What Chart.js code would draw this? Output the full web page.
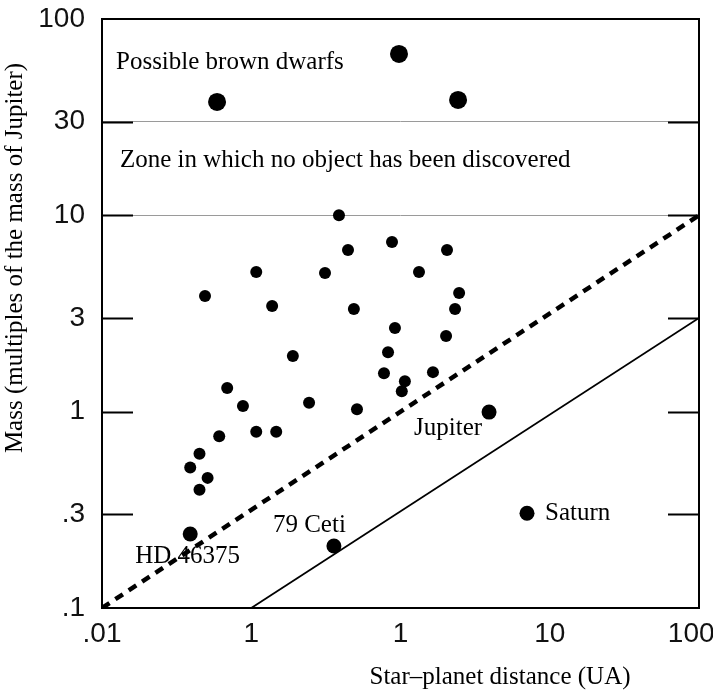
<!DOCTYPE html>
<html>
<head>
<meta charset="utf-8">
<script src="https://cdn.jsdelivr.net/npm/chart.js@4/dist/chart.umd.min.js"></script>
<style>
  body { margin: 0; background: #fff; }
  #wrap { width: 713px; height: 696px; }
</style>
</head>
<body>
<div id="wrap"><canvas id="mass-chart" width="713" height="696"></canvas></div>
<script>
// Axis ticks (labels copied as printed)
const xTickValues = [0.01, 0.1, 1, 10, 100];
const xTickLabels = ['.01', '1', '1', '10', '100\u2007'];
const yTickValues = [0.1, 0.3, 1, 3, 10, 30, 100];
const yTickLabels = ['.1', '.3', '1', '3', '10', '30', '100'];

// Extrasolar planets (distance in UA, mass in Jupiter masses)
const planetDist = [0.387, 0.445, 0.108, 0.312, 0.049, 0.138, 0.487, 0.19, 0.069, 0.088, 0.244,
                    0.511, 0.061, 0.108, 0.147, 0.045, 0.039, 0.051, 0.045, 0.775, 0.825, 0.877,
                    0.918, 1.02, 1.07, 1.33, 1.65, 2.02, 2.05, 2.32, 2.47];
const planetMass = [10.0, 6.66, 5.14, 5.08, 3.88, 3.45, 3.33, 1.92, 1.32, 1.07, 1.11,
                    1.03, 0.75, 0.79, 0.79, 0.61, 0.52, 0.46, 0.40, 1.57, 2.01, 7.31,
                    2.67, 1.27, 1.43, 5.14, 1.59, 2.43, 6.66, 3.33, 4.02];

// Possible brown dwarfs
const dwarfDist = [0.059, 0.977, 2.43];
const dwarfMass = [37.8, 66.4, 38.7];

// Named objects
const namedLabels = ['Jupiter', 'HD 46375', '79 Ceti', 'Saturn'];
const namedDist = [3.92, 0.039, 0.358, 7.04];
const namedMass = [0.995, 0.238, 0.207, 0.304];

// Limit lines
const dashedDist = [0.01, 100];
const dashedMass = [0.1, 10];
const solidDist = [0.1, 100];
const solidMass = [0.1, 3];

const toPoints = (xs, ys) => xs.map((x, i) => ({ x: x, y: ys[i] }));

const serif = '"Liberation Serif", "Times New Roman", serif';
const sans = '"Liberation Sans", Arial, sans-serif';

const framePlugin = {
  id: 'frame',
  afterDraw(chart) {
    const ctx = chart.ctx;
    const a = chart.chartArea;
    const xs = chart.scales.x;
    const ys = chart.scales.y;
    ctx.save();
    ctx.strokeStyle = '#000';
    ctx.lineWidth = 2;
    ctx.strokeRect(a.left, a.top, a.right - a.left, a.bottom - a.top);

    // inside tick marks on both sides
    [0.3, 1, 3, 10, 30].forEach(v => {
      const py = Math.round(ys.getPixelForValue(v)) + 0.5;
      ctx.beginPath();
      ctx.moveTo(a.left, py); ctx.lineTo(a.left + 31, py);
      ctx.moveTo(a.right - 31, py); ctx.lineTo(a.right, py);
      ctx.stroke();
    });

    ctx.fillStyle = '#000';
    ctx.font = '25px ' + serif;
    ctx.textBaseline = 'middle';

    // zone texts
    ctx.textAlign = 'left';
    ctx.fillText('Possible brown dwarfs', a.left + 14, ys.getPixelForValue(60));
    ctx.fillText('Zone in which no object has been discovered', a.left + 18, ys.getPixelForValue(19));

    // named object labels
    const offsets = [
      { dx: -7, dy: 16, align: 'right' },
      { dx: -55, dy: 22, align: 'left' },
      { dx: -61, dy: -21, align: 'left' },
      { dx: 18, dy: 0, align: 'left' }
    ];
    namedLabels.forEach((name, i) => {
      const px = xs.getPixelForValue(namedDist[i]);
      const py = ys.getPixelForValue(namedMass[i]);
      ctx.textAlign = offsets[i].align;
      ctx.fillText(name, px + offsets[i].dx, py + offsets[i].dy);
    });

    // axis titles
    ctx.textAlign = 'center';
    ctx.fillText('Star\u2013planet distance (UA)', a.left + 398, a.bottom + 69);
    ctx.save();
    ctx.translate(15, a.top + 239);
    ctx.rotate(-Math.PI / 2);
    ctx.fillText('Mass (multiples of the mass of Jupiter)', 0, 0);
    ctx.restore();
    ctx.restore();
  }
};

const ctxMass = document.getElementById('mass-chart').getContext('2d');
const massChart = new Chart(ctxMass, {
  type: 'scatter',
  data: {
    datasets: [
      {
        label: 'Limit (dashed)',
        data: toPoints(dashedDist, dashedMass),
        showLine: true,
        borderColor: '#000',
        borderWidth: 4.5,
        borderDash: [9, 7],
        pointRadius: 0
      },
      {
        label: 'Limit (solid)',
        data: toPoints(solidDist, solidMass),
        showLine: true,
        borderColor: '#000',
        borderWidth: 1.8,
        pointRadius: 0
      },
      {
        label: 'Planets',
        data: toPoints(planetDist, planetMass),
        backgroundColor: '#000',
        borderWidth: 0,
        pointRadius: 6
      },
      {
        label: 'Brown dwarfs',
        data: toPoints(dwarfDist, dwarfMass),
        backgroundColor: '#000',
        borderWidth: 0,
        pointRadius: 9
      },
      {
        label: 'Named',
        data: toPoints(namedDist, namedMass),
        backgroundColor: '#000',
        borderWidth: 0,
        pointRadius: 7.5
      }
    ]
  },
  options: {
    responsive: false,
    animation: false,
    devicePixelRatio: 1,
    layout: { padding: { top: 19, right: 14, left: 0, bottom: 0 } },
    plugins: {
      legend: { display: false },
      tooltip: { enabled: false }
    },
    scales: {
      x: {
        type: 'logarithmic',
        min: 0.01,
        max: 100,
        afterBuildTicks: s => { s.ticks = xTickValues.map(v => ({ value: v })); },
        afterFit: s => { s.height = 88; s.paddingLeft = 0; s.paddingRight = 0; },
        ticks: {
          autoSkip: false,
          maxRotation: 0,
          padding: 9,
          color: '#111',
          font: { family: sans, size: 28 },
          callback: (v, i) => xTickLabels[i]
        },
        grid: { display: false, drawTicks: false },
        border: { display: false }
      },
      y: {
        type: 'logarithmic',
        min: 0.1,
        max: 100,
        afterBuildTicks: s => { s.ticks = yTickValues.map(v => ({ value: v })); },
        afterFit: s => { s.width = 102; s.paddingTop = 0; s.paddingBottom = 0; },
        ticks: {
          autoSkip: false,
          padding: 17,
          color: '#111',
          font: { family: sans, size: 28 },
          callback: (v, i) => yTickLabels[i]
        },
        grid: {
          drawTicks: false,
          lineWidth: 1,
          color: c => (c.tick && (c.tick.value === 10 || c.tick.value === 30)) ? '#9a9a9a' : 'rgba(0,0,0,0)'
        },
        border: { display: false }
      }
    }
  },
  plugins: [framePlugin]
});
</script>
</body>
</html>
